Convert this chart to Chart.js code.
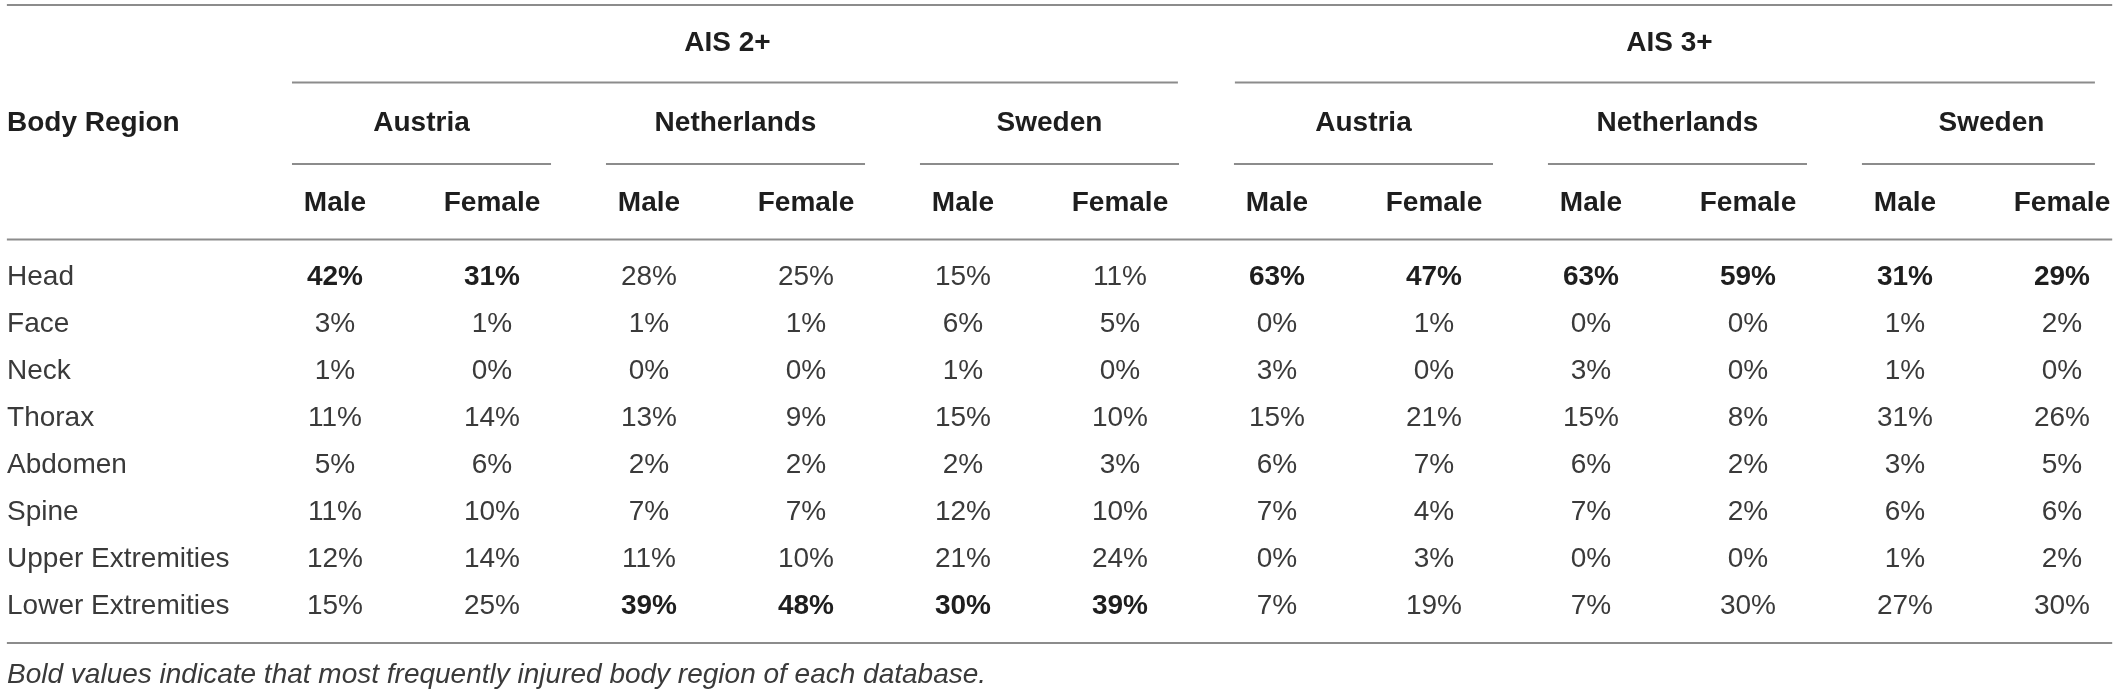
<!DOCTYPE html>
<html>
<head>
<meta charset="utf-8">
<script src="https://cdn.jsdelivr.net/npm/chart.js@4"></script>
<style>
  html, body { margin: 0; padding: 0; background: #fff; }
  #wrap { width: 2118px; height: 691px; }
</style>
</head>
<body>
<div id="wrap"><canvas id="injuryTable" width="2118" height="691"></canvas></div>
<script>
// table content
const regions = ['Head', 'Face', 'Neck', 'Thorax', 'Abdomen', 'Spine', 'Upper Extremities', 'Lower Extremities'];
const severities = ['AIS 2+', 'AIS 3+'];
const countries = ['Austria', 'Netherlands', 'Sweden'];
const sexes = ['Male', 'Female'];

// one array per column, values in % per body region
const ais2AustriaMale = [42, 3, 1, 11, 5, 11, 12, 15];
const ais2AustriaFemale = [31, 1, 0, 14, 6, 10, 14, 25];
const ais2NetherlandsMale = [28, 1, 0, 13, 2, 7, 11, 39];
const ais2NetherlandsFemale = [25, 1, 0, 9, 2, 7, 10, 48];
const ais2SwedenMale = [15, 6, 1, 15, 2, 12, 21, 30];
const ais2SwedenFemale = [11, 5, 0, 10, 3, 10, 24, 39];
const ais3AustriaMale = [63, 0, 3, 15, 6, 7, 0, 7];
const ais3AustriaFemale = [47, 1, 0, 21, 7, 4, 3, 19];
const ais3NetherlandsMale = [63, 0, 3, 15, 6, 7, 0, 7];
const ais3NetherlandsFemale = [59, 0, 0, 8, 2, 2, 0, 30];
const ais3SwedenMale = [31, 1, 1, 31, 3, 6, 1, 27];
const ais3SwedenFemale = [29, 2, 0, 26, 5, 6, 2, 30];

// most frequently injured region per database (severity x country), shown bold
const boldRegion = ['Head', 'Lower Extremities', 'Lower Extremities', 'Head', 'Head', 'Head'];

const footnote = 'Bold values indicate that most frequently injured body region of each database.';

const columns = [
    ais2AustriaMale, ais2AustriaFemale, ais2NetherlandsMale, ais2NetherlandsFemale,
    ais2SwedenMale, ais2SwedenFemale, ais3AustriaMale, ais3AustriaFemale,
    ais3NetherlandsMale, ais3NetherlandsFemale, ais3SwedenMale, ais3SwedenFemale
];

// row positions of the header block (in row units, Head = 0)
const ROW_TOP_RULE = -5.787, ROW_SEVERITY = -4.979, ROW_SEVERITY_RULE = -4.138;
const ROW_COUNTRY = -3.277, ROW_COUNTRY_RULE = -2.404, ROW_SEX = -1.574;
const ROW_HEADER_RULE = -0.798, ROW_BOTTOM_RULE = 7.787, ROW_FOOTNOTE = 8.47;
const COL_LABEL = -2.089, COL_LEFT_EDGE = -2.09, COL_RIGHT_EDGE = 11.32, COL_LAST = 11.21;

const FONT = '"Liberation Sans", Arial, Helvetica, sans-serif';
const RULE_COLOR = '#8c8c8c';

// text cells
let cells = [];
cells.push({x: COL_LABEL, y: ROW_COUNTRY, text: 'Body Region', weight: 'bold', align: 'left'});
severities.forEach((s, si) => {
    cells.push({x: si * 6 + 2.5, y: ROW_SEVERITY, text: s, weight: 'bold', align: 'center'});
    countries.forEach((c, ci) => {
        let g = si * 3 + ci;
        cells.push({x: g * 2 + 0.551, y: ROW_COUNTRY, text: c, weight: 'bold', align: 'center'});
        sexes.forEach((x, xi) => {
            cells.push({x: g * 2 + xi, y: ROW_SEX, text: x, weight: 'bold', align: 'center'});
        });
    });
});
regions.forEach((r, ri) => {
    cells.push({x: COL_LABEL, y: ri, text: r, weight: 'normal', align: 'left'});
    columns.forEach((col, ci) => {
        let db = Math.floor(ci / 2);
        cells.push({
            x: ci, y: ri, text: col[ri] + '%',
            weight: boldRegion[db] === r ? 'bold' : 'normal', align: 'center'
        });
    });
});
cells.push({x: COL_LABEL, y: ROW_FOOTNOTE, text: footnote, weight: 'normal', style: 'italic', align: 'left'});

// horizontal rules
function rule(x1, x2, y, width) {
    return {
        type: 'line',
        data: [{x: x1, y: y}, {x: x2, y: y}],
        borderColor: RULE_COLOR,
        borderWidth: width || 2,
        pointRadius: 0,
        fill: false
    };
}

let rules = [
    rule(COL_LEFT_EDGE, COL_RIGHT_EDGE, ROW_TOP_RULE),
    rule(COL_LEFT_EDGE, COL_RIGHT_EDGE, ROW_HEADER_RULE),
    rule(COL_LEFT_EDGE, COL_RIGHT_EDGE, ROW_BOTTOM_RULE),
    rule(-0.274, 5.369, ROW_SEVERITY_RULE),
    rule(5.732, COL_LAST, ROW_SEVERITY_RULE)
];
for (let g = 0; g < 6; g++) {
    rules.push(rule(g * 2 - 0.274, g === 5 ? COL_LAST : g * 2 + 1.376, ROW_COUNTRY_RULE));
}

const cellText = {
    id: 'cellText',
    afterDatasetsDraw(chart) {
        const ctx = chart.ctx;
        const meta = chart.getDatasetMeta(chart.data.datasets.length - 1);
        ctx.save();
        ctx.textBaseline = 'middle';
        meta.data.forEach((pt, i) => {
            const c = cells[i];
            ctx.font = (c.style || 'normal') + ' ' + c.weight + ' 28px ' + FONT;
            ctx.fillStyle = c.weight === 'bold' ? '#1e1e1e' : '#3a3a3a';
            ctx.textAlign = c.align;
            ctx.fillText(c.text, pt.x, pt.y);
        });
        ctx.restore();
    }
};

const ctx = document.getElementById('injuryTable').getContext('2d');
new Chart(ctx, {
    type: 'scatter',
    data: {
        datasets: rules.concat([{
            type: 'scatter',
            data: cells.map(c => ({x: c.x, y: c.y})),
            pointRadius: 0,
            pointHoverRadius: 0
        }])
    },
    options: {
        responsive: false,
        animation: false,
        events: [],
        layout: { padding: 0 },
        plugins: {
            legend: { display: false },
            tooltip: { enabled: false }
        },
        scales: {
            x: { type: 'linear', display: false, min: -2.1338, max: 11.357 },
            y: { type: 'linear', display: false, reverse: true, min: -5.894, max: 8.809 }
        }
    },
    plugins: [cellText]
});
</script>
</body>
</html>
